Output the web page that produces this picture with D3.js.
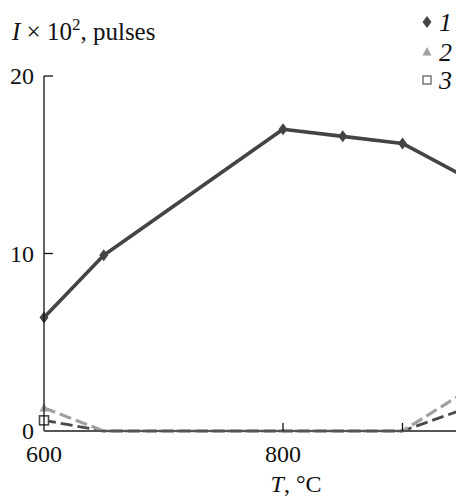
<!DOCTYPE html>
<html>
<head>
<meta charset="utf-8">
<script src="https://cdn.jsdelivr.net/npm/d3@7/dist/d3.min.js"></script>
<style>
  html, body { margin: 0; padding: 0; background: #fff; overflow: hidden; }
  svg { display: block; font-family: 'Liberation Serif', 'DejaVu Serif', serif; }
</style>
</head>
<body>
<div id="chart"></div>
<script>
// temperatures, °C
var temps = [600, 650, 700, 750, 800, 850, 900, 950];
// intensity x 10^2, pulses
var series1 = [6.4, 9.9, null, null, 17.0, 16.6, 16.2, 14.4];
var series2 = [1.3, 0, 0, 0, 0, 0, 0, 2.1];
var series3 = [0.6, 0, 0, 0, 0, 0, 0, 1.2];
var xTicks = [600, 800, 900];
var xTickLabels = ['600', '800', ''];
var yTicks = [0, 10, 20];
var legendLabels = ['1', '2', '3'];

var W = 456, H = 498;
var svg = d3.select('#chart').append('svg')
  .attr('width', W)
  .attr('height', H);

// x: 600 -> 44px, 800 -> 283px ; y: 0 -> 431px, 20 -> 76px
var x = d3.scaleLinear().domain([600, 1000]).range([44, 522]);
var y = d3.scaleLinear().domain([0, 20]).range([431, 76]);

/* series lines */
var seriesDefs = [
  { vals: series3, color: '#4a4a4a', width: 2.8, dash: '12,5', shape: 'square' },
  { vals: series2, color: '#a0a0a0', width: 3.2, dash: '12,5', shape: 'triangle' },
  { vals: series1, color: '#444', width: 3.6, dash: null, shape: 'diamond' }
];

var drawMarker = function(g, shape, cx, cy, color) {
  if (shape === 'diamond') {
    g.append('path')
      .attr('d', 'M' + cx + ',' + (cy - 6) + 'L' + (cx + 4.5) + ',' + cy + 'L' + cx + ',' + (cy + 6) + 'L' + (cx - 4.5) + ',' + cy + 'Z')
      .attr('fill', color);
  } else if (shape === 'triangle') {
    g.append('path')
      .attr('d', 'M' + cx + ',' + (cy - 5) + 'L' + (cx + 4.5) + ',' + (cy + 3.5) + 'L' + (cx - 4.5) + ',' + (cy + 3.5) + 'Z')
      .attr('fill', color);
  } else {
    g.append('rect')
      .attr('x', cx - 4.5).attr('y', cy - 4.5)
      .attr('width', 9).attr('height', 9)
      .attr('fill', '#fff')
      .attr('stroke', color)
      .attr('stroke-width', 1.6);
  }
};

var plot = svg.append('g');

seriesDefs.forEach(function(s) {
  // skip missing values (series 1 runs straight 650 -> 800)
  var pts = [];
  s.vals.forEach(function(v, i) { if (v !== null) { pts.push([temps[i], v]); } });
  plot.append('path')
    .datum(pts)
    .attr('d', d3.line().x(function(d) { return x(d[0]); }).y(function(d) { return y(d[1]); }))
    .attr('fill', 'none')
    .attr('stroke', s.color)
    .attr('stroke-width', s.width)
    .attr('stroke-linejoin', 'round')
    .attr('stroke-dasharray', s.dash);
});

/* axes */
// y axis
svg.append('line')
  .attr('x1', x(600)).attr('x2', x(600))
  .attr('y1', y(20)).attr('y2', y(0))
  .attr('stroke', '#111').attr('stroke-width', 1.3);
// x axis
svg.append('line')
  .attr('x1', x(600)).attr('x2', W)
  .attr('y1', y(0)).attr('y2', y(0))
  .attr('stroke', '#555').attr('stroke-width', 1.8);

yTicks.forEach(function(t) {
  if (t > 0) {
    svg.append('line')
      .attr('x1', x(600)).attr('x2', x(600) + 9)
      .attr('y1', y(t)).attr('y2', y(t))
      .attr('stroke', '#111').attr('stroke-width', 1.3);
  }
  svg.append('text')
    .attr('x', 34)
    .attr('y', y(t) + 8)
    .attr('text-anchor', 'end')
    .attr('font-size', 24)
    .attr('fill', '#111')
    .text(t);
});

xTicks.forEach(function(t, i) {
  if (t > 600) {
    svg.append('line')
      .attr('x1', x(t)).attr('x2', x(t))
      .attr('y1', y(0)).attr('y2', y(0) - 8)
      .attr('stroke', '#111').attr('stroke-width', 1.3);
  }
  svg.append('text')
    .attr('x', x(t))
    .attr('y', 462)
    .attr('text-anchor', 'middle')
    .attr('font-size', 24)
    .attr('fill', '#111')
    .text(xTickLabels[i]);
});

/* markers (series at zero sit under the axis) */
seriesDefs.forEach(function(s) {
  var g = plot.append('g');
  s.vals.forEach(function(v, i) {
    if (v !== null && v > 0) {
      drawMarker(g, s.shape, x(temps[i]), y(v), s.color);
    }
  });
});

/* titles */
var yTitle = svg.append('text')
  .attr('x', 12)
  .attr('y', 40)
  .attr('font-size', 25)
  .attr('fill', '#111');
yTitle.append('tspan').attr('font-style', 'italic').text('I');
yTitle.append('tspan').text(' × 10');
yTitle.append('tspan').attr('font-size', 17).attr('dy', -10).text('2');
yTitle.append('tspan').attr('dy', 10).text(', pulses');

var xTitle = svg.append('text')
  .attr('x', 296)
  .attr('y', 492)
  .attr('text-anchor', 'middle')
  .attr('font-size', 24)
  .attr('fill', '#111');
xTitle.append('tspan').attr('font-style', 'italic').text('T');
xTitle.append('tspan').text(', °C');

/* legend */
var legendShapes = ['diamond', 'triangle', 'square'];
var legendColors = ['#444', '#a0a0a0', '#4a4a4a'];
var legendY = [22, 52, 80];
legendLabels.forEach(function(lbl, i) {
  var g = svg.append('g');
  var cy = legendY[i];
  if (legendShapes[i] === 'square') {
    g.append('rect')
      .attr('x', 423).attr('y', cy - 4)
      .attr('width', 8).attr('height', 8)
      .attr('fill', '#fff')
      .attr('stroke', '#555')
      .attr('stroke-width', 1.2);
  } else {
    drawMarker(g, legendShapes[i], 427, cy, legendColors[i]);
  }
  g.append('text')
    .attr('x', 439)
    .attr('y', cy + 9)
    .attr('font-size', 26)
    .attr('font-style', 'italic')
    .attr('fill', '#111')
    .text(lbl);
});
</script>
</body>
</html>
